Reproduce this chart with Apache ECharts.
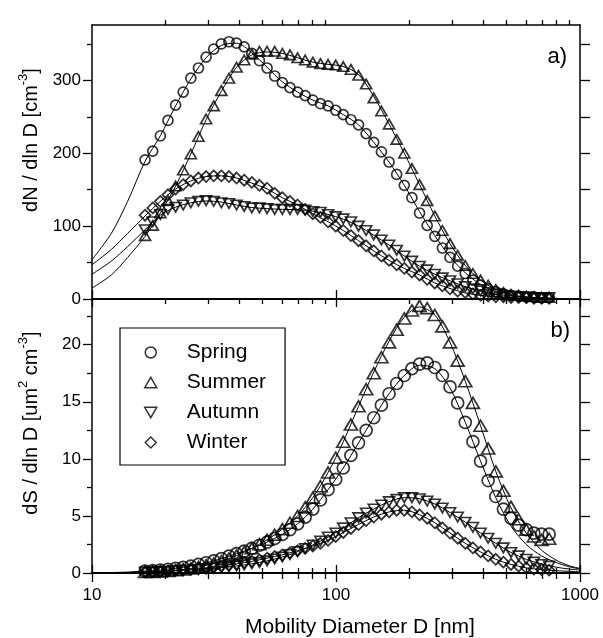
<!DOCTYPE html>
<html><head><meta charset="utf-8">
<script src="https://cdn.jsdelivr.net/npm/echarts@6/dist/echarts.min.js"></script>
<style>html,body{margin:0;padding:0;background:#fff}#c{width:603px;height:638px}</style>
</head><body><div id="c"></div>
<script>
// Mobility diameters of the measured size bins [nm]
const diameters = [16.5,17.74,19.06,20.48,22.01,23.65,25.41,27.31,29.35,31.54,33.89,36.42,39.13,42.05,45.19,48.56,52.18,56.07,60.26,64.75,69.58,74.77,80.35,86.35,92.79,99.71,107.1,115.1,123.7,132.9,142.8,153.5,165.0,177.3,190.5,204.7,220.0,236.4,254.0,273.0,293.3,315.2,338.7,364.0,391.2,420.3,451.7,485.4,521.6,560.5,602.3,647.3,695.5,747.4];

// a) dN/dlnD [cm-3]
const springN = [191,203,224,245,266,284,303,317,332,343,350,353,351,346,337,327,317,306,297,290,284,279,273,268,265,259,253,246,239,227,215,202,188,171,156,139,118,101,86,70,57,45,35,26,19,14,10,7,5,4,3,3,2,2];
const summerN = [87,101,118,135,155,177,199,223,247,265,286,303,318,328,336,340,340,340,337,335,331,328,325,323,322,321,319,315,307,295,276,258,240,219,200,179,157,135,114,94,76,60,46,35,26,19,13,9,6,5,4,3,2,2];
const autumnN = [95,106,116,123,126,129,132,134,135,134,132,131,129,127,125,125,124,123,123,123,123,122,120,119,116,113,110,106,100,94,88,81,74,67,59,52,45,40,34,29,25,21,17,14,11,9,7,5,4,3,3,2,2,2];
const winterN = [115,125,134,143,151,157,162,166,168,169,169,168,166,163,160,156,152,145,139,134,129,123,117,112,106,100,94,87,80,73,66,59,53,47,42,37,33,27,22,18,14,11,9,7,5,4,3,3,2,2,2,1,1,1];

// b) dS/dlnD [um2 cm-3]
const springS = [0.17,0.2,0.26,0.33,0.41,0.5,0.61,0.75,0.9,1.07,1.26,1.47,1.69,1.92,2.16,2.43,2.71,3.03,3.39,3.8,4.3,4.9,5.6,6.4,7.3,8.2,9.2,10.3,11.4,12.5,13.6,14.7,15.7,16.6,17.3,17.9,18.3,18.4,18.0,17.3,16.3,14.9,13.2,11.5,9.8,8.1,6.7,5.6,4.8,4.2,3.8,3.5,3.4,3.4];
const summerS = [0.08,0.1,0.14,0.18,0.24,0.31,0.4,0.52,0.67,0.84,1.03,1.26,1.53,1.83,2.16,2.52,2.91,3.35,3.84,4.4,5.0,5.75,6.6,7.6,8.8,10.1,11.5,13.0,14.6,16.1,17.5,18.9,20.2,21.3,22.3,23.0,23.4,23.2,22.6,21.6,20.2,18.6,16.8,14.9,12.9,10.9,8.9,7.2,5.8,4.7,3.8,3.2,2.9,3.0];
const autumnS = [0.08,0.1,0.12,0.15,0.19,0.23,0.27,0.31,0.36,0.42,0.48,0.55,0.62,0.71,0.81,0.93,1.06,1.22,1.4,1.62,1.87,2.15,2.45,2.8,3.15,3.5,3.95,4.4,4.85,5.25,5.6,5.95,6.25,6.45,6.6,6.6,6.5,6.3,6.05,5.7,5.3,4.9,4.45,4.0,3.5,3.05,2.6,2.2,1.8,1.5,1.2,0.95,0.75,0.6];
const winterS = [0.1,0.12,0.15,0.19,0.23,0.28,0.33,0.39,0.45,0.53,0.61,0.7,0.8,0.91,1.02,1.15,1.3,1.44,1.59,1.77,1.96,2.16,2.37,2.6,2.86,3.2,3.55,3.9,4.25,4.6,4.9,5.15,5.35,5.5,5.5,5.35,5.1,4.8,4.4,3.95,3.5,3.05,2.6,2.2,1.85,1.5,1.2,0.95,0.75,0.6,0.45,0.35,0.3,0.25];

// fitted curves
const fitD = [10,12,14,16.5,19.06,22.01,25.41,29.35,33.89,39.13,45.19,52.18,60.26,69.58,80.35,92.79,107.1,123.7,142.8,165.0,190.5,220.0,254.0,293.3,338.7,391.2,451.7,521.6,602.3,695.5,803,900,1000];
const springFitN = [54,90,134,189,224,265,302,331,348,351,338,318,298,284,273,265,253,239,215,188,156,120,87,58,36,20,10,5,2.5,1.2,0.6,0.3,0.15];
const summerFitN = [15,33,57,86,118,155,199,246,285,318,335,339,337,331,325,322,319,308,278,240,200,157,114,76,46,26,13,6,3,1.5,0.7,0.3,0.1];
const autumnFitN = [34,52,72,95,115,126,132,134.5,133,129,125.5,124,123,122.5,120.5,116,109.5,100,87.5,74,59,45,34,25,17,11,6.5,4,2.5,1.5,0.8,0.4,0.2];
const winterFitN = [47,68,90,114,134,151,162,168,169,166,159,151,139,129,117,106,94,80,66,53,42,33,22,14.5,8.5,5,3,2,1.2,0.7,0.4,0.2,0.1];
const springFitS = [0.02,0.04,0.08,0.16,0.26,0.41,0.61,0.9,1.26,1.69,2.16,2.71,3.39,4.3,5.6,7.3,9.2,11.4,13.6,15.7,17.3,18.2,17.9,16.2,13.2,9.8,6.6,4.1,2.5,1.5,0.9,0.55,0.35];
const summerFitS = [0.01,0.02,0.04,0.08,0.14,0.24,0.4,0.67,1.03,1.53,2.16,2.91,3.84,5.0,6.6,8.8,11.5,14.6,17.6,20.3,22.4,23.3,22.6,20.2,16.8,12.9,8.9,5.7,3.5,2.0,1.1,0.65,0.4];
const autumnFitS = [0.01,0.02,0.04,0.08,0.12,0.19,0.27,0.36,0.48,0.62,0.81,1.06,1.4,1.87,2.45,3.15,3.95,4.85,5.6,6.25,6.6,6.5,6.05,5.3,4.45,3.5,2.6,1.8,1.2,0.8,0.5,0.35,0.25];
const winterFitS = [0.01,0.03,0.05,0.1,0.15,0.23,0.33,0.45,0.61,0.8,1.02,1.3,1.59,1.96,2.37,2.86,3.55,4.25,4.9,5.35,5.5,5.1,4.4,3.5,2.6,1.85,1.2,0.75,0.45,0.3,0.2,0.15,0.1];

// ticks
const xMajor = [10,100,1000];
const xMinor = [20,30,40,50,60,70,80,90,200,300,400,500,600,700,800,900];
const yMajorA = [0,100,200,300];
const yMinorA = [50,150,250,350];
const yRightA = [0,50,100,150,200,250,300,350];
const yMajorB = [0,5,10,15,20];
const yMinorB = [2.5,7.5,12.5,17.5,22.5];
const yRightB = [0,2.5,5,7.5,10,12.5,15,17.5,20,22.5];
const seasons = ['Spring','Summer','Autumn','Winter'];

const FONT = '"Liberation Sans", Arial, Helvetica, sans-serif';
const SYM = {
  Spring: 'circle',
  Summer: 'path://M5,0L10,8.66L0,8.66Z',
  Autumn: 'path://M0,0L10,0L5,8.66Z',
  Winter: 'path://M5,0L10,5L5,10L0,5Z'
};
const SIZE_A = {Spring:10, Summer:[11,9.5], Autumn:[11,9.5], Winter:[11,11]};
const SIZE_B = {Spring:12, Summer:[13,11], Autumn:[11,9.5], Winter:[11,11]};

function logX(grid, pos, ticks, len, labels) {
  return {
    type:'log', logBase:10, gridIndex:grid, position:pos, min:10, max:1000,
    axisLine:{show:true, lineStyle:{color:'#000', width:1.5}},
    axisTick:{show:true, inside:false, length:len, customValues:ticks, lineStyle:{color:'#000', width:1.3}},
    axisLabel: labels ? {show:true, customValues:labels, margin:14, color:'#000', fontSize:17, fontFamily:FONT, formatter:(v)=>String(Math.round(v))} : {show:false},
    splitLine:{show:false}, minorTick:{show:false}
  };
}
function valY(grid, pos, max, ticks, len, labels, line) {
  return {
    type:'value', gridIndex:grid, position:pos, min:0, max:max,
    axisLine:{show:line, onZero:false, lineStyle:{color:'#000', width:1.5}},
    axisTick:{show:true, inside:false, length:len, customValues:ticks, lineStyle:{color:'#000', width:1.3}},
    axisLabel: labels ? {show:true, customValues:labels, margin:11, color:'#000', fontSize:17, fontFamily:FONT} : {show:false},
    splitLine:{show:false}, minorTick:{show:false}
  };
}

const xAxis = [
  logX(0,'bottom',xMajor,8,null), logX(0,'bottom',xMinor,5,null),
  logX(0,'top',xMajor,9,null), logX(0,'top',xMinor,5,null),
  logX(1,'top',xMajor,8,null), logX(1,'top',xMinor,5,null),
  logX(1,'bottom',xMajor,9,xMajor), logX(1,'bottom',xMinor,6,null)
];
const yAxis = [
  valY(0,'left',376,yMajorA,9,yMajorA,true), valY(0,'left',376,yMinorA,5,null,false), valY(0,'right',376,yRightA,10,null,true),
  valY(1,'left',24,yMajorB,9,yMajorB,true), valY(1,'left',24,yMinorB,5,null,false), valY(1,'right',24,yRightB,10,null,true)
];

const dataN = {Spring:springN, Summer:summerN, Autumn:autumnN, Winter:winterN};
const dataS = {Spring:springS, Summer:summerS, Autumn:autumnS, Winter:winterS};
const fitN = {Spring:springFitN, Summer:summerFitN, Autumn:autumnFitN, Winter:winterFitN};
const fitS = {Spring:springFitS, Summer:summerFitS, Autumn:autumnFitS, Winter:winterFitS};

const series = [];
function addPanel(xi, yi, data, fit, sizes) {
  seasons.forEach(s => {
    series.push({
      type:'line', name:s+' fit', xAxisIndex:xi, yAxisIndex:yi,
      data: fitD.map((d,k)=>[d, fit[s][k]]),
      showSymbol:false, smooth:0.3, silent:true, z:2,
      lineStyle:{color:'#000', width:1}
    });
  });
  seasons.forEach(s => {
    series.push({
      type:'scatter', name:s, xAxisIndex:xi, yAxisIndex:yi,
      data: diameters.map((d,i)=>[d, data[s][i]]),
      symbol:SYM[s], symbolSize:sizes[s], z:3,
      itemStyle:{color:'rgba(0,0,0,0)', borderColor:'#000', borderWidth:1.7}
    });
  });
}
addPanel(0, 0, dataN, fitN, SIZE_A);
addPanel(6, 3, dataS, fitS, SIZE_B);

const supRich = {
  a:{fontSize:20, fontFamily:FONT, fill:'#000', lineHeight:24, verticalAlign:'bottom'},
  s:{fontSize:13, fontFamily:FONT, fill:'#000', lineHeight:16, verticalAlign:'top'}
};

const chart = echarts.init(document.getElementById('c'), null, {renderer:'canvas'});
chart.setOption({
  animation:false,
  backgroundColor:'#fff',
  grid:[
    {left:92, top:25, width:488, height:274},
    {left:92, top:299, width:488, height:274}
  ],
  xAxis:xAxis,
  yAxis:yAxis,
  legend:{
    data:seasons, orient:'vertical', left:120, top:328,
    padding:[14,19,12,24], itemGap:9, itemWidth:12, itemHeight:11,
    borderColor:'#000', borderWidth:1.2, backgroundColor:'#fff',
    itemStyle:{color:'rgba(0,0,0,0)', borderColor:'#000', borderWidth:1.5},
    textStyle:{fontSize:21, fontFamily:FONT, color:'#000', padding:[0,0,0,25]},
    selectedMode:false
  },
  graphic:[
    {type:'text', x:567, y:57, style:{text:'a)', fontSize:22, fontFamily:FONT, fill:'#000', align:'right', verticalAlign:'middle'}},
    {type:'text', x:570, y:331, style:{text:'b)', fontSize:22, fontFamily:FONT, fill:'#000', align:'right', verticalAlign:'middle'}},
    {type:'text', x:360, y:627, style:{text:'Mobility Diameter D [nm]', fontSize:21, fontFamily:FONT, fill:'#000', align:'center', verticalAlign:'middle'}},
    {type:'text', x:29, y:140, rotation:Math.PI/2, style:{
      text:'{a|dN / dln D [cm}{s|-3}{a|]}', align:'center', verticalAlign:'middle', rich:supRich
    }},
    {type:'text', x:29, y:423, rotation:Math.PI/2, style:{
      text:'{a|dS / dln D [um}{s|2}{a| cm}{s|-3}{a|]}', align:'center', verticalAlign:'middle', rich:supRich
    }}
  ],
  series:series
});
</script>
</body></html>
